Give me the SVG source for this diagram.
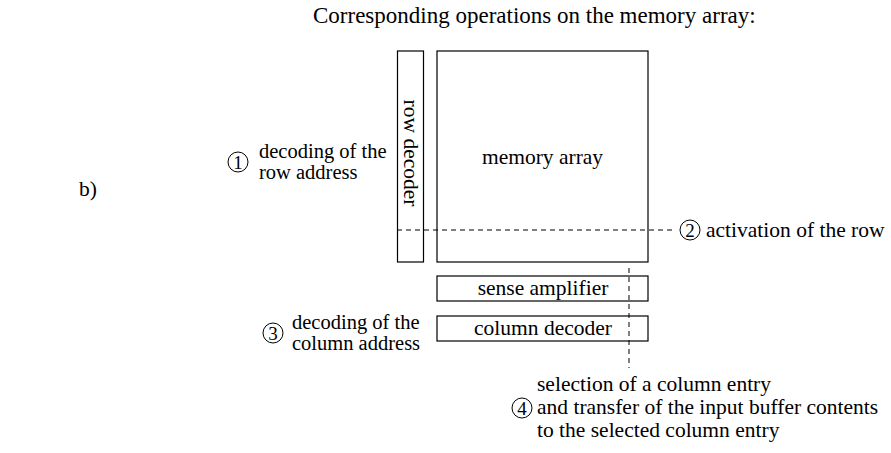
<svg xmlns="http://www.w3.org/2000/svg" width="891" height="453" viewBox="0 0 891 453">
  <style>
    text { font-family: "Liberation Serif", "Times New Roman", serif; font-size: 21.5px; fill: #000; }
    .title { font-size: 23px; }
    .side { font-size: 20.5px; }
    .box { fill: #fff; stroke: #000; stroke-width: 1.2; }
    .num { fill: #fff; stroke: #000; stroke-width: 1; }
    .digit { font-size: 19px; text-anchor: middle; }
    .dash { fill: none; stroke: #000; stroke-width: 1; stroke-dasharray: 5 4; }
    .mid { text-anchor: middle; }
  </style>
  <rect width="891" height="453" fill="#fff"/>

  <text class="title" x="313" y="23">Corresponding operations on the memory array:</text>
  <text x="79" y="196">b)</text>

  <g id="row-decoder">
    <rect class="box" x="397.5" y="51" width="26" height="211"/>
    <text class="mid" transform="translate(403.5 153) rotate(90)">row decoder</text>
  </g>

  <g id="memory-array">
    <rect class="box" x="437" y="51" width="211" height="211"/>
    <text class="mid" x="542.5" y="164">memory array</text>
  </g>

  <g id="sense-amplifier">
    <rect class="box" x="437" y="276" width="211" height="25"/>
    <text class="mid" x="543" y="295">sense amplifier</text>
  </g>

  <g id="column-decoder">
    <rect class="box" x="437" y="316" width="211" height="25"/>
    <text class="mid" x="543" y="335">column decoder</text>
  </g>

  <g id="connectors">
    <line class="dash" x1="397" y1="230" x2="676" y2="230"/>
    <line class="dash" x1="629" y1="268" x2="629" y2="368"/>
  </g>

  <g id="step-1">
    <circle class="num" cx="238" cy="162" r="10"/>
    <text class="digit" x="238" y="168.5">1</text>
    <text class="side" x="259" y="158">decoding of the</text>
    <text class="side" x="259" y="179">row address</text>
  </g>

  <g id="step-2">
    <circle class="num" cx="690" cy="230" r="10"/>
    <text class="digit" x="690" y="236.5">2</text>
    <text x="706" y="237">activation of the row</text>
  </g>

  <g id="step-3">
    <circle class="num" cx="273" cy="333" r="10"/>
    <text class="digit" x="273" y="339.5">3</text>
    <text class="side" x="292" y="329">decoding of the</text>
    <text class="side" x="292" y="350">column address</text>
  </g>

  <g id="step-4">
    <circle class="num" cx="522" cy="408" r="10"/>
    <text class="digit" x="522" y="414.5">4</text>
    <text x="537" y="391">selection of a column entry</text>
    <text x="537" y="414">and transfer of the input buffer contents</text>
    <text x="537" y="437">to the selected column entry</text>
  </g>
</svg>
